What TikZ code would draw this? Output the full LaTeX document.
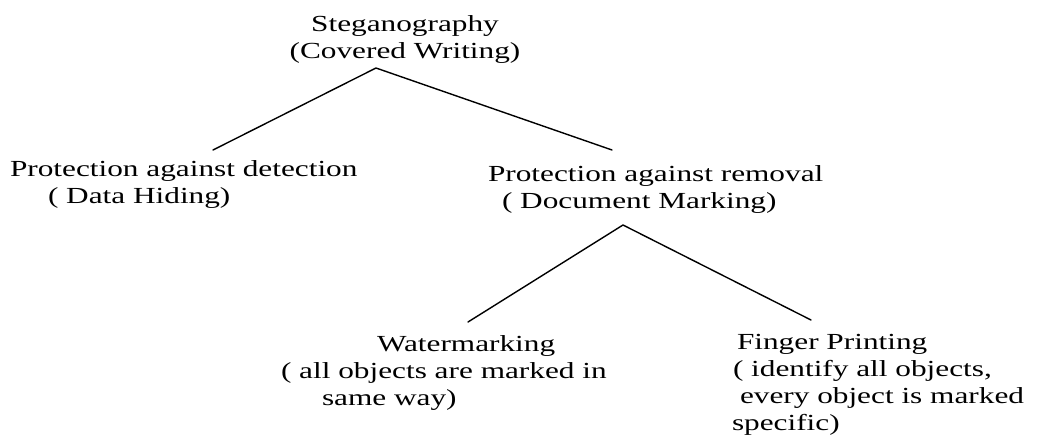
\documentclass[tikz,border=0pt]{standalone}
\usepackage{fontspec}
\setmainfont{Liberation Serif}[FakeStretch=1.36]
\begin{document}
\begin{tikzpicture}[x=1pt,y=-1pt,
  label/.style={inner sep=0pt, outer sep=0pt, anchor=base west, align=left,
    font=\fontsize{23}{27}\selectfont},
  branch/.style={draw=black, line width=1.4pt, line cap=round, line join=round}]
  \useasboundingbox (0,0) rectangle (1042,442);

  % labels of the tree (each placed at the baseline of its last line)
  \node[label, anchor=base, align=center] (root) at (405,58)
    {Steganography\\(Covered Writing)};
  \node[label] (detect) at (10,203)
    {Protection against detection\\\hspace*{38pt}( Data Hiding)};
  \node[label] (removal) at (488,208)
    {Protection against removal\\\hspace*{14pt}( Document Marking)};
  \node[label] (water) at (281,405)
    {\hspace*{96pt}Watermarking\\( all objects are marked in\\\hspace*{41pt}same way)};
  \node[label] (finger) at (732,430)
    {\hspace*{5pt}Finger Printing\\\hspace*{1pt}( identify all objects,\\\hspace*{8pt}every object is marked\\specific)};

  % branch points and free ends
  \coordinate (rootfork) at (376,68);
  \coordinate (detectend) at (213,150);
  \coordinate (removalend) at (612,150);
  \coordinate (removalfork) at (623,225);
  \coordinate (waterend) at (468,322);
  \coordinate (fingerend) at (811,320);

  \draw[branch] (detectend) -- (rootfork) -- (removalend);
  \draw[branch] (waterend) -- (removalfork) -- (fingerend);
\end{tikzpicture}
\end{document}
